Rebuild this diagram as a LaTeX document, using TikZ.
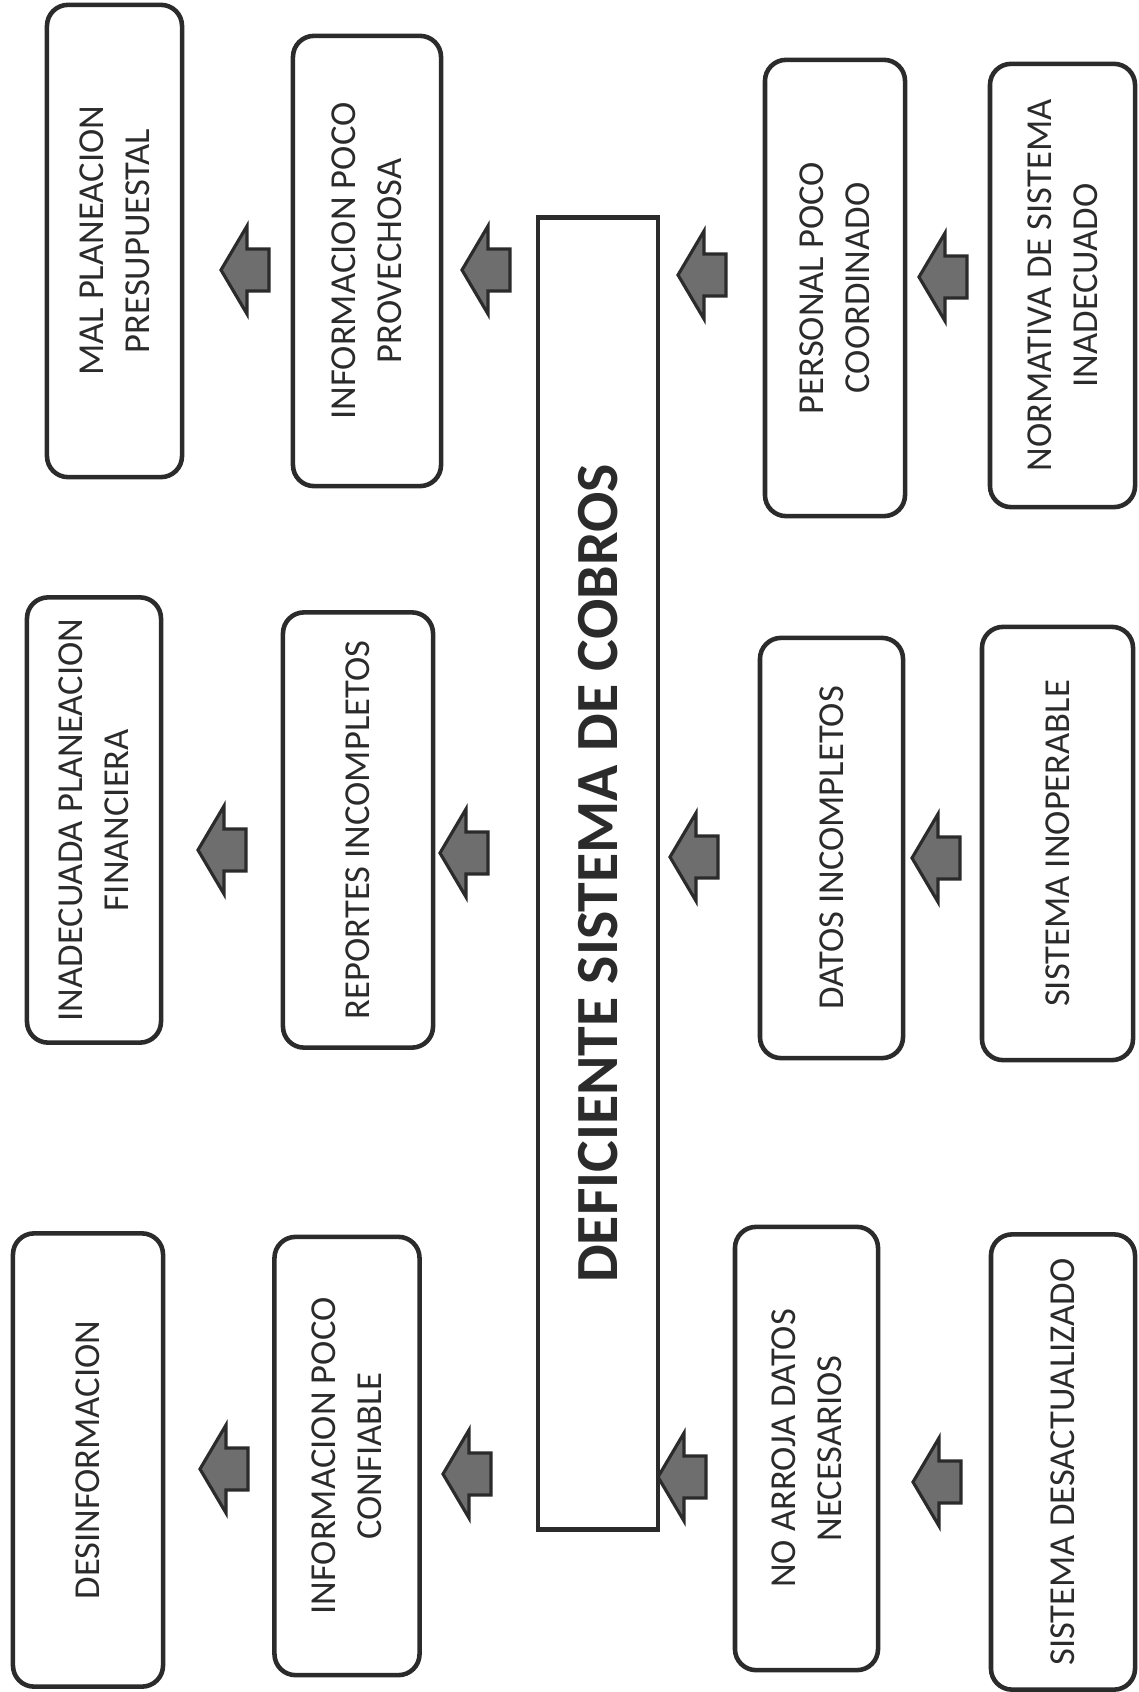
\documentclass[tikz,border=0pt]{standalone}
\usepackage{fontspec}
\setmainfont{Carlito}
\definecolor{tinta}{HTML}{2B2B2B}
\definecolor{relleno}{HTML}{6E6E6E}
\tikzset{
  caja/.style={draw=tinta, line width=1.3pt, rounded corners=6pt, rotate=90,
    align=center, inner sep=0pt, text=tinta,
    font=\fontsize{10.4}{13.1}\selectfont},
  central/.style={draw=tinta, line width=1.3pt, rotate=90, inner sep=0pt,
    text=tinta, font=\fontsize{17}{20}\selectfont\bfseries},
  flecha/.pic={
    \filldraw[draw=tinta, fill=relleno, line width=0.9pt]
      (0,0) -- (26,-44) -- (26,-21) -- (48,-21) -- (48,21) -- (26,21) -- (26,44) -- cycle;
  }
}
\begin{document}
\begin{tikzpicture}[x=0.01cm, y=-0.01cm]
      \useasboundingbox (0,0) rectangle (1138,1692);
      % problema central
      \node[central, minimum width=13.11cm, minimum height=1.2cm] (problema) at (598,873.5) {DEFICIENTE SISTEMA DE COBROS};
      % efectos
      \node[caja, minimum width=4.72cm, minimum height=1.35cm] (efecto1) at (114.5,241) {MAL PLANEACION\\PRESUPUESTAL};
      \node[caja, minimum width=4.45cm, minimum height=1.34cm] (efecto2) at (94,820) {INADECUADA PLANEACION\\FINANCIERA};
      \node[caja, minimum width=4.53cm, minimum height=1.5cm] (efecto3) at (88,1460) {DESINFORMACION};
      \node[caja, minimum width=4.5cm, minimum height=1.48cm] (efecto4) at (367,261) {INFORMACION POCO\\PROVECHOSA};
      \node[caja, minimum width=4.35cm, minimum height=1.5cm] (efecto5) at (358,830) {REPORTES INCOMPLETOS};
      \node[caja, minimum width=4.38cm, minimum height=1.45cm] (efecto6) at (347,1456) {INFORMACION POCO\\CONFIABLE};
      % causas
      \node[caja, minimum width=4.56cm, minimum height=1.4cm] (causa1) at (835,288) {PERSONAL POCO\\COORDINADO};
      \node[caja, minimum width=4.2cm, minimum height=1.43cm] (causa2) at (831.5,848) {DATOS INCOMPLETOS};
      \node[caja, minimum width=4.43cm, minimum height=1.43cm] (causa3) at (806.5,1448.5) {NO ARROJA DATOS\\NECESARIOS};
      \node[caja, minimum width=4.43cm, minimum height=1.45cm] (causa4) at (1062.5,285.5) {NORMATIVA DE SISTEMA\\INADECUADO};
      \node[caja, minimum width=4.33cm, minimum height=1.51cm] (causa5) at (1057.5,843.5) {SISTEMA INOPERABLE};
      \node[caja, minimum width=4.55cm, minimum height=1.44cm] (causa6) at (1063,1462) {SISTEMA DESACTUALIZADO};
      % flechas
      \begin{scope}
        \pic at (221,270) {flecha};
        \pic at (462,270) {flecha};
        \pic at (678,275) {flecha};
        \pic at (919,277) {flecha};
        \pic at (198,850) {flecha};
        \pic at (440,853) {flecha};
        \pic at (670,857) {flecha};
        \pic at (912,858) {flecha};
        \pic at (200,1469) {flecha};
        \pic at (443,1474) {flecha};
        \pic at (658,1477) {flecha};
        \pic at (913,1482) {flecha};
      \end{scope}
\end{tikzpicture}
\end{document}
